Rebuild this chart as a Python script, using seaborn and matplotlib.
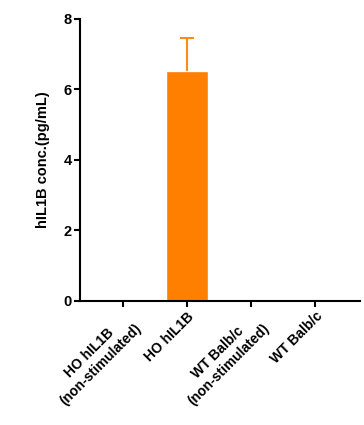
import matplotlib
matplotlib.use("Agg")
import matplotlib.pyplot as plt
import seaborn as sns
import numpy as np
import pandas as pd

categories = ["HO hIL1B\n(non-stimulated)", "HO hIL1B", "WT Balb/c\n(non-stimulated)", "WT Balb/c"]
values = [0.0, 6.52, 0.0, 0.0]
errors = [0.0, 0.95, 0.0, 0.0]
yticks = [0, 2, 4, 6, 8]

sns.set_style("white")
plt.rcParams['font.family'] = ['Liberation Sans', 'DejaVu Sans']
plt.rcParams['text.color'] = 'black'
plt.rcParams['axes.labelcolor'] = 'black'
plt.rcParams['xtick.color'] = 'black'
plt.rcParams['ytick.color'] = 'black'

fig = plt.figure(figsize=(3.64, 4.25), dpi=100)
ax = fig.add_axes([0.2198, 0.2918, 0.769, 0.6635])

df = pd.DataFrame({"cat": categories, "val": values})
sns.barplot(data=df, x="cat", y="val", color="#FF8000", saturation=1, width=0.66, ax=ax, errorbar=None)

x = np.arange(len(categories))
err = np.array(errors)
mask = err > 0
_, caps, _ = ax.errorbar(x[mask], np.array(values)[mask], yerr=[np.zeros(mask.sum()), err[mask]],
                         fmt="none", ecolor="#FF8C1A", elinewidth=1.5, capsize=5, capthick=1.5)
caps[0].set_visible(False)

ax.set_xlim(-0.67, 3.7)
ax.set_ylim(0, 8)
ax.set_yticks(yticks)
ax.set_yticklabels([str(t) for t in yticks], fontweight="bold", fontsize=10.5)
ax.set_xticks(x)
ax.set_xticklabels(categories, rotation=45, ha="right", rotation_mode="anchor",
                   fontweight="bold", fontsize=10, multialignment="center")
ax.set_xlabel("")
ax.set_ylabel("hIL1B conc.(pg/mL)", fontweight="bold", fontsize=10.5, labelpad=10)

for s in ["top", "right"]:
    ax.spines[s].set_visible(False)
for s in ["left", "bottom"]:
    ax.spines[s].set_linewidth(1.5)
    ax.spines[s].set_color("black")
ax.tick_params(axis="both", direction="out", length=4, width=1.5, color="black", pad=2,
               bottom=True, left=True)

fig.savefig("out.png", dpi=100)
